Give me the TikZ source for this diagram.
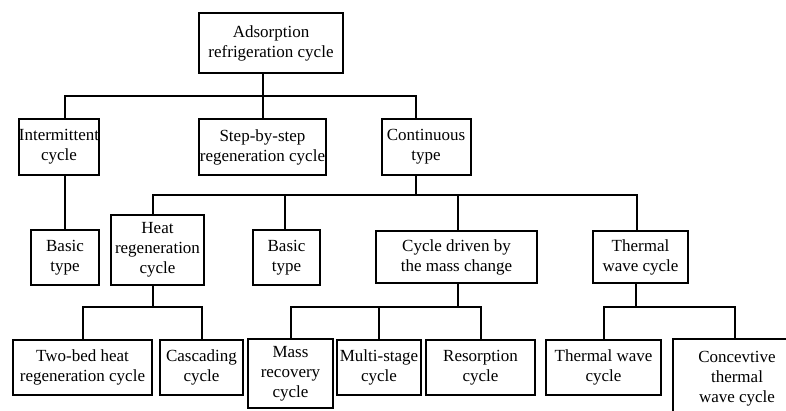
\documentclass[tikz,border=0pt]{standalone}
\usepackage{fontspec}
\setmainfont{Liberation Serif}
\usepackage{tikz}
\usetikzlibrary{calc, positioning}
\tikzstyle{block} = [rectangle, line width=2pt, inner sep=0pt, align=center, draw=black, fill=white, font=\fontsize{17}{20}\selectfont]
\tikzstyle{link} = [line width=2pt]

\begin{document}
\begin{tikzpicture}[x=1pt, y=-1pt]
		\clip (0,0) rectangle (786,410);
		\fill[white] (0,0) rectangle (786,410);
		
		% first level
		\node (Top) [block, minimum width=144pt, minimum height=60pt] at (271,43) {Adsorption\\refrigeration cycle};
		
		% second level
		\node (Intermittent) [block, minimum width=80pt, minimum height=56pt] at (59,147) {Intermittent\\cycle};
		\node (StepByStep) [block, minimum width=127pt, minimum height=56pt] at (262.5,147) {Step-by-step\\regeneration cycle};
		\node (Continuous) [block, minimum width=89pt, minimum height=56pt] at (426,147) {Continuous\\type};
		
		% third level
		\node (BasicLeft) [block, minimum width=68pt, minimum height=55pt] at (65,257.5) {Basic\\type};
		\node (HeatRegen) [block, minimum width=93pt, minimum height=70pt] at (157.5,250) {Heat\\regeneration\\cycle};
		\node (BasicMid) [block, minimum width=67pt, minimum height=55pt] at (286.5,257.5) {Basic\\type};
		\node (MassChange) [block, minimum width=161pt, minimum height=52pt] at (456.5,257) {Cycle driven by\\the mass change};
		\node (ThermalWave) [block, minimum width=95pt, minimum height=52pt] at (640.5,257) {Thermal\\wave cycle};
		
		% fourth level
		\node (TwoBed) [block, minimum width=139pt, minimum height=55pt] at (82.5,367.5) {Two-bed heat\\regeneration cycle};
		\node (Cascading) [block, minimum width=83pt, minimum height=55pt] at (201.5,367.5) {Cascading\\cycle};
		\node (MassRecovery) [block, minimum width=85pt, minimum height=69pt] at (290.5,373.5) {Mass\\recovery\\cycle};
		\node (MultiStage) [block, minimum width=84pt, minimum height=55pt] at (379,367.5) {Multi-stage\\cycle};
		\node (Resorption) [block, minimum width=109pt, minimum height=55pt] at (480.5,367.5) {Resorption\\cycle};
		\node (ThermalWaveCycle) [block, minimum width=115pt, minimum height=55pt] at (603.5,367.5) {Thermal wave\\cycle};
		\node (Convective) [block, minimum width=128pt, minimum height=80pt] at (737,379) {Concevtive\\thermal\\wave cycle};
		
		\coordinate (busA) at (416,96);
		\coordinate (busB) at (416,195);
		\coordinate (busC) at (0,307);
		
		\draw [link] (Top.south -| StepByStep.north) -- (StepByStep.north);
		\draw [link] (BasicLeft.north |- Intermittent.north) |- (busA) -- ([xshift=-10pt]Continuous.north);
		\draw [link] (BasicLeft.north |- Intermittent.south) -- (BasicLeft.north);
		
		\draw [link] ([xshift=-10pt]Continuous.south) -- (busB);
		\draw [link] ([xshift=-4.5pt]HeatRegen.north) |- (busB) -| ([xshift=-3.5pt]ThermalWave.north);
		\draw [link] ([xshift=-1.5pt]BasicMid.north) -- ([xshift=-1.5pt]BasicMid.north |- busB);
		\draw [link] ([xshift=1.5pt]MassChange.north) -- ([xshift=1.5pt]MassChange.north |- busB);
		
		\draw [link] ([xshift=-4.5pt]HeatRegen.south) -- ([xshift=-4.5pt]HeatRegen.south |- busC);
		\draw [link] (TwoBed.north) |- (Cascading.north |- busC) -- (Cascading.north);
		\draw [link] ([xshift=1.5pt]MassChange.south) -- ([xshift=1.5pt]MassChange.south |- busC);
		\draw [link] (MassRecovery.north) |- (Resorption.north |- busC) -- (Resorption.north);
		\draw [link] (MultiStage.north) -- (MultiStage.north |- busC);
		\draw [link] ([xshift=-4.5pt]ThermalWave.south) -- ([xshift=-4.5pt]ThermalWave.south |- busC);
		\draw [link] (ThermalWaveCycle.north) |- ([xshift=-2pt]Convective.north |- busC) -- ([xshift=-2pt]Convective.north);
		
\end{tikzpicture}
\end{document}
